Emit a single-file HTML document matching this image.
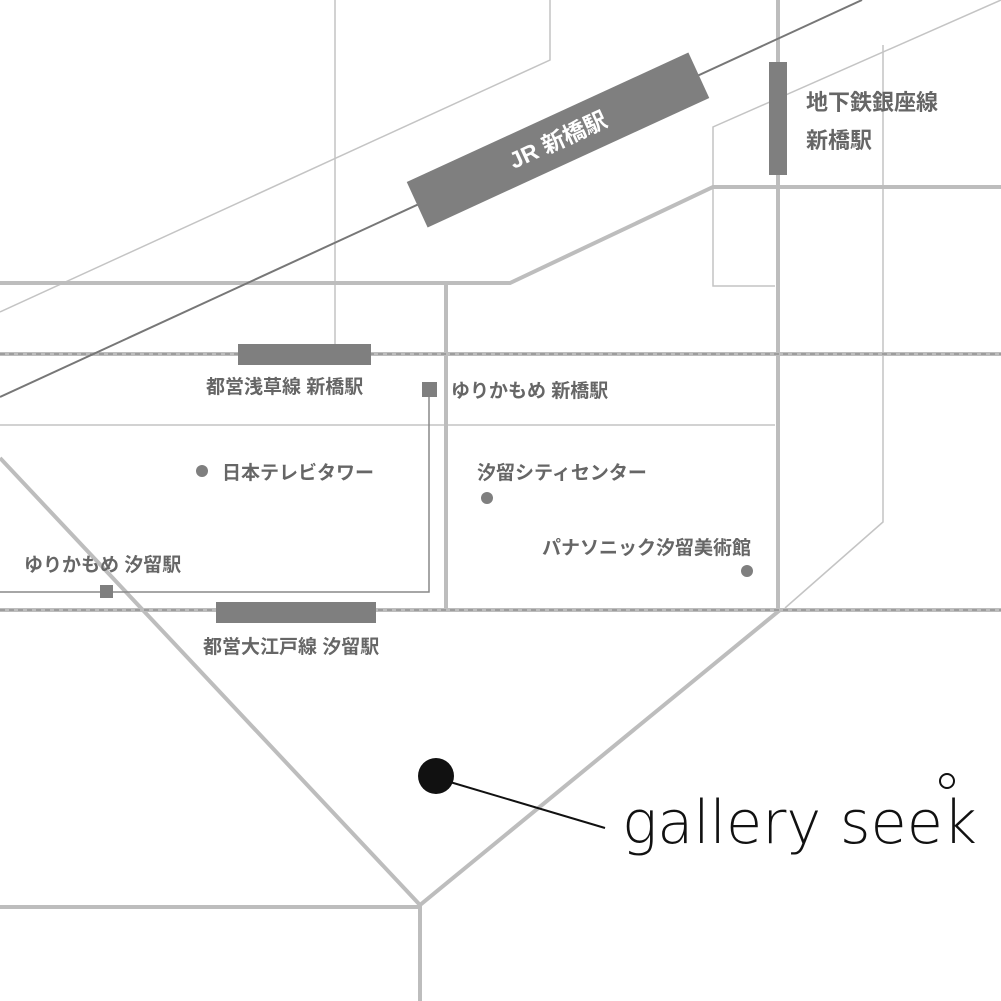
<!DOCTYPE html>
<html><head><meta charset="utf-8"><style>
html,body{margin:0;padding:0;background:#fff}
svg{display:block}
.t{font-family:"Liberation Sans","Noto Sans CJK JP",sans-serif;font-weight:bold;font-size:19px;fill:#666}
</style></head><body>
<svg width="1001" height="1001" viewBox="0 0 1001 1001" xmlns="http://www.w3.org/2000/svg">
<g fill="none" stroke="#c4c4c4" stroke-width="1.5">
<line x1="335" y1="0" x2="335" y2="345"/>
<polyline points="550,0 550,60 0,312"/>
<polyline points="1001,0 713,127 713,286 775,286"/>
<polyline points="883,45 883,522 785,608"/>
<line x1="0" y1="425" x2="775" y2="425"/>
</g>
<g fill="none" stroke="#bdbdbd" stroke-width="4">
<polyline points="0,283 510,283 713,187 1001,187"/>
<line x1="446" y1="283" x2="446" y2="608"/>
<line x1="778" y1="0" x2="778" y2="610"/>
<line x1="0" y1="354" x2="1001" y2="354"/>
<line x1="0" y1="610" x2="1001" y2="610"/>
<polyline points="0,458 420,905 780,610"/>
<polyline points="0,907 420,907 420,1001"/>
</g>
<g stroke="#8a8a8a" stroke-width="1.2" stroke-dasharray="5,4">
<line x1="0" y1="354" x2="1001" y2="354"/>
<line x1="0" y1="610" x2="1001" y2="610"/>
</g>
<polyline points="429,389 429,592 0,592" fill="none" stroke="#888" stroke-width="1.5"/>
<line x1="0" y1="397" x2="862" y2="0" stroke="#777" stroke-width="2"/>
<g fill="#7f7f7f">
<rect x="403" y="115" width="310" height="50" transform="rotate(-24.7 558 140)"/>
<rect x="238" y="344" width="133" height="21"/>
<rect x="216" y="602" width="160" height="21"/>
<rect x="769" y="62" width="18" height="113"/>
<rect x="422" y="382" width="15" height="15"/>
<rect x="100" y="585" width="13" height="13"/>
<circle cx="202" cy="471" r="6"/>
<circle cx="487" cy="498" r="6"/>
<circle cx="747" cy="571" r="6"/>
</g>
<text x="558" y="148" text-anchor="middle" transform="rotate(-24.7 558 140)" style="font-family:'Liberation Sans','Noto Sans CJK JP',sans-serif;font-weight:bold;font-size:23px;fill:#fff">JR 新橋駅</text>
<text class="t" x="806" y="110" style="font-size:22px">地下鉄銀座線</text>
<text class="t" x="806" y="148" style="font-size:22px">新橋駅</text>
<text class="t" x="206" y="393">都営浅草線 新橋駅</text>
<text class="t" x="451" y="397">ゆりかもめ 新橋駅</text>
<text class="t" x="222" y="479">日本テレビタワー</text>
<text class="t" x="477" y="479">汐留シティセンター</text>
<text class="t" x="542" y="554">パナソニック汐留美術館</text>
<text class="t" x="24" y="571">ゆりかもめ 汐留駅</text>
<text class="t" x="203" y="653">都営大江戸線 汐留駅</text>
<circle cx="436" cy="776" r="18" fill="#111"/>
<line x1="450" y1="782" x2="605" y2="828" stroke="#111" stroke-width="2"/>
<text x="622" y="843" textLength="355" lengthAdjust="spacingAndGlyphs" style="font-family:'DejaVu Sans',sans-serif;font-weight:200;font-size:60px;fill:#111">gallery seek</text>
<circle cx="947" cy="781" r="7" fill="none" stroke="#111" stroke-width="2"/>
</svg>
</body></html>
